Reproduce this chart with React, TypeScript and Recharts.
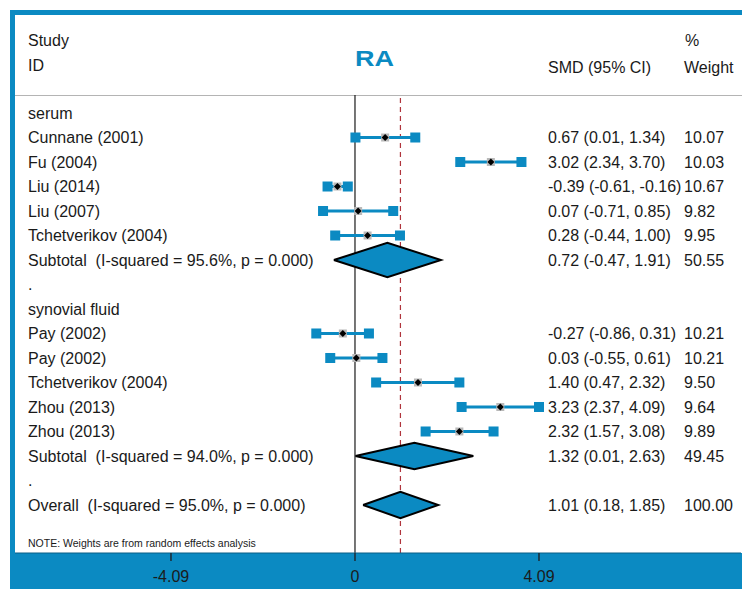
import React from 'react';
import { ComposedChart, Scatter, XAxis, YAxis, ReferenceLine } from 'recharts';

// ---------- data ----------
const groupNames = ['serum', 'synovial fluid'];
const groupRows = [0, 8];

const studyNames = [
  'Cunnane (2001)', 'Fu (2004)', 'Liu (2014)', 'Liu (2007)', 'Tchetverikov (2004)',
  'Pay (2002)', 'Pay (2002)', 'Tchetverikov (2004)', 'Zhou (2013)', 'Zhou (2013)',
];
const studyRows = [1, 2, 3, 4, 5, 9, 10, 11, 12, 13];
const studySMD = [0.67, 3.02, -0.39, 0.07, 0.28, -0.27, 0.03, 1.4, 3.23, 2.32];
const studyLower = [0.01, 2.34, -0.61, -0.71, -0.44, -0.86, -0.55, 0.47, 2.37, 1.57];
const studyUpper = [1.34, 3.7, -0.16, 0.85, 1.0, 0.31, 0.61, 2.32, 4.09, 3.08];
const studyWeight = ['10.07', '10.03', '10.67', '9.82', '9.95', '10.21', '10.21', '9.50', '9.64', '9.89'];

const pooledNames = [
  'Subtotal  (I-squared = 95.6%, p = 0.000)',
  'Subtotal  (I-squared = 94.0%, p = 0.000)',
  'Overall  (I-squared = 95.0%, p = 0.000)',
];
const pooledRows = [6, 14, 16];
const pooledSMD = [0.72, 1.32, 1.01];
const pooledLower = [-0.47, 0.01, 0.18];
const pooledUpper = [1.91, 2.63, 1.85];
const pooledWeight = ['50.55', '49.45', '100.00'];

const spacerRows = [7, 15];
const xTicks = [-4.09, 0, 4.09];

// ---------- styles ----------
const BLUE = '#0b8ac2';
const FONT = '"Liberation Sans", Arial, sans-serif';
const TEXT = '#1a1a1a';
const DIAMOND_HALF = [0.7, 0.54, 0.54];
const X_DOMAIN: [number, number] = [-7.557, 8.58];
const Y_DOMAIN: [number, number] = [-0.735, 17.96];

// ---------- derived tables ----------
const leftLabels: Record<number, string> = {};
groupRows.forEach((r, i) => (leftLabels[r] = groupNames[i]));
studyRows.forEach((r, i) => (leftLabels[r] = studyNames[i]));
pooledRows.forEach((r, i) => (leftLabels[r] = pooledNames[i]));
spacerRows.forEach((r) => (leftLabels[r] = '.'));

const fmt = (v: number) => v.toFixed(2);
const rightLabels: Record<number, [string, string]> = {};
studyRows.forEach((r, i) => (rightLabels[r] = [`${fmt(studySMD[i])} (${fmt(studyLower[i])}, ${fmt(studyUpper[i])})`, studyWeight[i]]));
pooledRows.forEach((r, i) => (rightLabels[r] = [`${fmt(pooledSMD[i])} (${fmt(pooledLower[i])}, ${fmt(pooledUpper[i])})`, pooledWeight[i]]));

const allRows = Object.keys(leftLabels).map(Number).sort((a, b) => a - b);
const rightRows = Object.keys(rightLabels).map(Number).sort((a, b) => a - b);

const estimateData = studyRows.map((r, i) => ({ x: studySMD[i], y: r }));
const ciData = studyRows.map((r, i) => [
  { x: studyLower[i], y: r },
  { x: studyUpper[i], y: r },
]);
const diamondData = pooledRows.map((r, i) => [
  { x: pooledLower[i], y: r },
  { x: pooledSMD[i], y: r - DIAMOND_HALF[i] },
  { x: pooledUpper[i], y: r },
  { x: pooledSMD[i], y: r + DIAMOND_HALF[i] },
  { x: pooledLower[i], y: r },
]);

// ---------- shapes ----------
const EndSquare = (p: any) => (
  <rect x={p.cx - 5} y={p.cy - 5} width={10} height={10} fill={BLUE} />
);
const EstimateMark = (p: any) => (
  <g>
    <rect x={p.cx - 4} y={p.cy - 4} width={8} height={8} fill="#b9b9b9" />
    <polygon
      points={`${p.cx - 3.5},${p.cy} ${p.cx},${p.cy - 3.5} ${p.cx + 3.5},${p.cy} ${p.cx},${p.cy + 3.5}`}
      fill="#000"
    />
  </g>
);
const NoShape = () => <g />;

const LeftTick = (p: any) => {
  const label = leftLabels[Math.round(p.payload.value)];
  if (label === undefined) return <g />;
  return (
    <text x={28} y={p.y} dy="0.35em" fontFamily={FONT} fontSize={16} fill={TEXT} style={{ whiteSpace: 'pre' }}>
      {label}
    </text>
  );
};
const RightTick = (p: any) => {
  const label = rightLabels[Math.round(p.payload.value)];
  if (!label) return <g />;
  return (
    <g>
      <text x={548} y={p.y} dy="0.35em" fontFamily={FONT} fontSize={16} fill={TEXT}>{label[0]}</text>
      <text x={684} y={p.y} dy="0.35em" fontFamily={FONT} fontSize={16} fill={TEXT}>{label[1]}</text>
    </g>
  );
};

export default function App() {
  return (
    <div style={{ position: 'absolute', left: 0, top: 0, width: 742, height: 589, background: '#fff', overflow: 'hidden' }}>
      {/* frame */}
      <div style={{ position: 'absolute', left: 10, top: 10, width: 732, height: 579, background: BLUE }} />
      <div style={{ position: 'absolute', left: 15, top: 15, width: 727, height: 538, background: '#fff' }} />
      <div style={{ position: 'absolute', left: 15, top: 95, width: 727, height: 1, background: '#b4b4b4' }} />
      {/* static header text */}
      <svg width={742} height={589} style={{ position: 'absolute', left: 0, top: 0 }}>
        <g fontFamily={FONT} fontSize={16} fill={TEXT}>
          <text x={28} y={46}>Study</text>
          <text x={28} y={71}>ID</text>
          <text x={548} y={73}>SMD (95% CI)</text>
          <text x={685} y={46}>%</text>
          <text x={684} y={73}>Weight</text>
          <text x={28} y={547} fontSize={10.5}>NOTE: Weights are from random effects analysis</text>
        </g>
        <text x={355} y={66} fontFamily={FONT} fontWeight="bold" fontSize={22} fill={BLUE} textLength={39} lengthAdjust="spacingAndGlyphs">RA</text>
      </svg>
      <div style={{ position: 'absolute', left: 0, top: 0 }}>
        <ComposedChart width={742} height={589} margin={{ top: 95, right: 0, bottom: 0, left: 14 }}>
          <XAxis
            type="number"
            dataKey="x"
            domain={X_DOMAIN}
            allowDataOverflow
            ticks={xTicks}
            interval={0}
            height={36}
            tickFormatter={(v: number) => (v === 0 ? '0' : v.toFixed(2))}
            tick={{ fill: '#1b1b1b', fontSize: 16, fontFamily: FONT }}
            tickSize={8}
            tickMargin={10}
            tickLine={{ stroke: '#1d2a33', strokeWidth: 1.5 }}
            axisLine={{ stroke: '#0a5f86', strokeWidth: 1 }}
          />
          <YAxis
            yAxisId="rows"
            type="number"
            dataKey="y"
            domain={Y_DOMAIN}
            allowDataOverflow
            reversed
            width={1}
            ticks={allRows}
            interval={0}
            axisLine={false}
            tickLine={false}
            tick={<LeftTick />}
          />
          <YAxis
            yAxisId="rowsR"
            orientation="right"
            type="number"
            dataKey="y"
            domain={Y_DOMAIN}
            allowDataOverflow
            reversed
            width={1}
            ticks={rightRows}
            interval={0}
            axisLine={false}
            tickLine={false}
            tick={<RightTick />}
          />
          <ReferenceLine yAxisId="rows" x={0} stroke="#1a1a1a" strokeWidth={1.2} />
          <ReferenceLine yAxisId="rows" x={pooledSMD[2]} stroke="#b0343c" strokeWidth={1.2} strokeDasharray="5 4" />
          {ciData.map((d, i) => (
            <Scatter
              key={`ci${i}`}
              yAxisId="rows"
              data={d}
              line={{ stroke: BLUE, strokeWidth: 3 }}
              shape={<EndSquare />}
              isAnimationActive={false}
            />
          ))}
          <Scatter yAxisId="rows" data={estimateData} shape={<EstimateMark />} isAnimationActive={false} />
          {diamondData.map((d, i) => (
            <Scatter
              key={`dm${i}`}
              yAxisId="rowsR"
              data={d}
              line={{ fill: BLUE, stroke: '#000', strokeWidth: 2 }}
              shape={<NoShape />}
              isAnimationActive={false}
            />
          ))}
        </ComposedChart>
      </div>
    </div>
  );
}
